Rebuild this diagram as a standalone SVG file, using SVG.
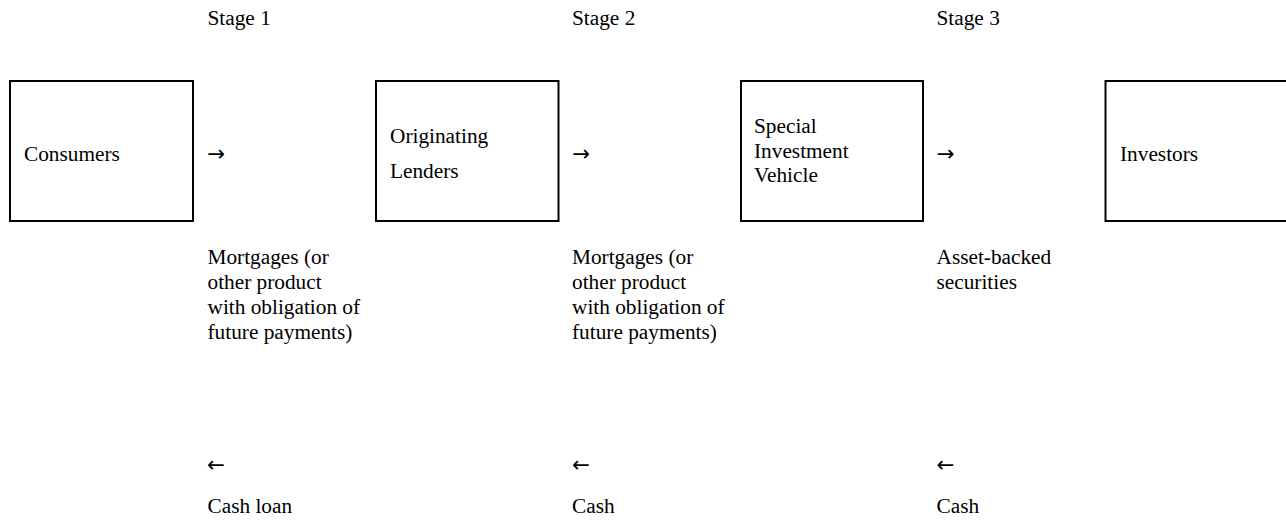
<svg xmlns="http://www.w3.org/2000/svg" width="1286" height="521" viewBox="0 0 1286 521">
<style>
text{font-family:"Liberation Serif","Times New Roman",serif;font-size:21.3px;fill:#000}
.box{fill:#fff;stroke:#000;stroke-width:2}
.arr{font-family:"DejaVu Sans",sans-serif;font-size:21.3px}
</style>
<rect width="1286" height="521" fill="#fff"/>
<g id="stages">
<text x="207.5" y="25">Stage 1</text>
<text x="572" y="25">Stage 2</text>
<text x="936.5" y="25">Stage 3</text>
</g>
<g id="consumers">
<rect class="box" x="10" y="81" width="183" height="140"/>
<text x="24" y="160.7">Consumers</text>
</g>
<g id="originating-lenders">
<rect class="box" x="376" y="81" width="182.5" height="140"/>
<text x="390" y="142.7">Originating</text>
<text x="390" y="178.3">Lenders</text>
</g>
<g id="special-investment-vehicle">
<rect class="box" x="741" y="81" width="182" height="140"/>
<text x="754" y="133.3">Special</text>
<text x="754" y="157.5">Investment</text>
<text x="754" y="181.7">Vehicle</text>
</g>
<g id="investors">
<rect class="box" x="1105.5" y="81" width="183" height="140"/>
<text x="1120" y="160.7">Investors</text>
</g>
<g id="connectors">
<text class="arr" x="207" y="160.5">→</text>
<text class="arr" x="572" y="160.5">→</text>
<text class="arr" x="936.5" y="160.5">→</text>
<text class="arr" x="207" y="472">←</text>
<text class="arr" x="572" y="472">←</text>
<text class="arr" x="936.5" y="472">←</text>
</g>
<g id="labels">
<text x="207.5" y="264">Mortgages (or</text>
<text x="207.5" y="289">other product</text>
<text x="207.5" y="314">with obligation of</text>
<text x="207.5" y="339">future payments)</text>
<text x="572" y="264">Mortgages (or</text>
<text x="572" y="289">other product</text>
<text x="572" y="314">with obligation of</text>
<text x="572" y="339">future payments)</text>
<text x="936.5" y="264">Asset-backed</text>
<text x="936.5" y="289">securities</text>
<text x="207.5" y="513.3">Cash loan</text>
<text x="572" y="513.3">Cash</text>
<text x="936.5" y="513.3">Cash</text>
</g>
</svg>
